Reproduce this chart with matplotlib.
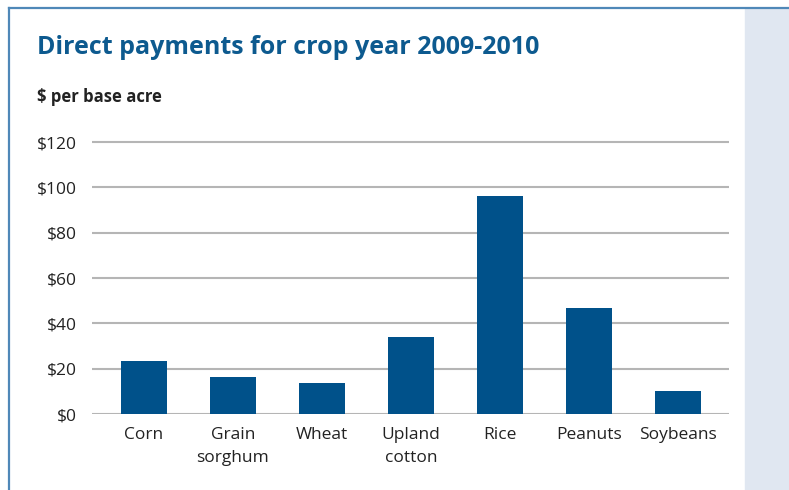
import matplotlib.pyplot as plt
from matplotlib.patches import Rectangle
from matplotlib.lines import Line2D
import numpy as np

# crops and payments ($ per base acre)
crops = ['Corn', 'Grain\nsorghum', 'Wheat', 'Upland\ncotton', 'Rice', 'Peanuts', 'Soybeans']
payments = [23.5, 16.3, 13.7, 34.0, 96.3, 46.9, 10.2]
yticks = [0, 20, 40, 60, 80, 100, 120]
ytick_labels = ['$0', '$20', '$40', '$60', '$80', '$100', '$120']

plt.rcParams['font.family'] = ['Open Sans', 'DejaVu Sans']

W, H = 789, 490
fig = plt.figure(figsize=(W / 100, H / 100), dpi=100)

# side panel and frame
fig.patches.append(Rectangle((745 / W, 0), (W - 745) / W, (H - 8) / H,
                             transform=fig.transFigure, color='#e0e7f1', zorder=0))
fig.lines.append(Line2D([9 / W, 1], [(H - 8) / H] * 2, transform=fig.transFigure,
                        color='#4f88b8', lw=1.6))
fig.lines.append(Line2D([9 / W] * 2, [0, (H - 8) / H], transform=fig.transFigure,
                        color='#4f88b8', lw=1.6))

fig.text(37 / W, 1 - 47 / H, 'Direct payments for crop year 2009-2010',
         fontsize=18, fontweight='bold', color='#0d5a8f', va='center')
fig.text(37 / W, 1 - 97 / H, '$ per base acre',
         fontsize=12, fontweight='bold', color='#222222', va='center')

# axes: y=0 at 414px, 20 units per 45.3px
top_val = 122
px_per_unit = 45.3 / 20
ax_bottom = 414
ax_top = ax_bottom - top_val * px_per_unit
ax = fig.add_axes([92 / W, (H - ax_bottom) / H, (729 - 92) / W, (ax_bottom - ax_top) / H])

x = np.arange(len(crops))
ax.bar(x, payments, width=0.517, color='#00518a', zorder=3)

ax.set_xlim(-0.584, 6.573)
ax.set_ylim(0, top_val)
ax.set_yticks(yticks)
ax.set_yticklabels(ytick_labels)
ax.set_xticks(x)
ax.set_xticklabels(crops, linespacing=1.6)
ax.tick_params(axis='both', length=0, labelsize=12.5, colors='#222222')
ax.tick_params(axis='y', pad=11)
ax.tick_params(axis='x', pad=9)
ax.grid(axis='y', color='#b5b5b5', lw=1.5, zorder=0)
for s in ax.spines.values():
    s.set_visible(False)
ax.patch.set_alpha(0)

plt.savefig('out.png', dpi=100)
